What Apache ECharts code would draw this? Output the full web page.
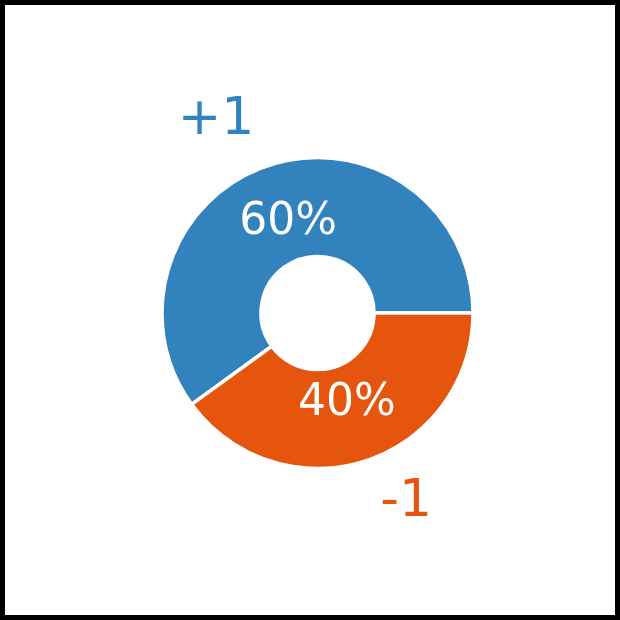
<!DOCTYPE html>
<html>
<head>
<meta charset="utf-8">
<script src="https://cdn.jsdelivr.net/npm/echarts@6/dist/echarts.min.js"></script>
<style>html,body{margin:0;padding:0;background:#fff;}#c{width:620px;height:620px;}</style>
</head>
<body>
<div id="c"></div>
<script>
const categories = ['+1', '-1'];
const values = [60, 40];
const colors = ['#3182bd', '#e6550d'];

const chart = echarts.init(document.getElementById('c'), null, {renderer: 'canvas'});
const center = [317.5, 313];
const font = 'DejaVu Sans';

const mainData = categories.map((n, i) => ({name: n, value: values[i], itemStyle: {color: colors[i]}}));
const pctData = categories.map((n, i) => ({name: n, value: values[i]}));
const namePad = [[0, 78, 0, 0], [0, 0, 0, 54]];
const nameRadius = [[194, 204.6], [192, 201.4]];
function nameSeriesData(k) {
  return categories.map((n, i) => ({
    name: n, value: values[i],
    label: {show: i === k, color: colors[i], padding: namePad[i]}
  }));
}

const transparentBase = {
  type: 'pie', center: center, startAngle: 0, clockwise: false, silent: true,
  itemStyle: {color: 'rgba(0,0,0,0)', borderWidth: 0},
  labelLine: {show: false}, emphasis: {disabled: true}, animation: false
};

const nameSeries = categories.map((n, k) => Object.assign({}, transparentBase, {
  radius: nameRadius[k],
  label: {position: 'inside', formatter: '{b}', fontSize: 52, fontFamily: font},
  data: nameSeriesData(k)
}));

chart.setOption({
  animation: false,
  graphic: [{type: 'rect', shape: {x: 0, y: 0, width: 620, height: 620}, style: {fill: 'none', stroke: '#000', lineWidth: 10}, z: 100}],
  series: [
    {
      type: 'pie', center: center, radius: [56.5, 155.5], startAngle: 0, clockwise: false,
      silent: true, animation: false,
      itemStyle: {borderColor: '#fff', borderWidth: 3.5},
      label: {show: false}, labelLine: {show: false},
      emphasis: {disabled: true},
      data: mainData
    },
    Object.assign({}, transparentBase, {
      radius: [87, 97],
      label: {show: true, position: 'inside', formatter: '{d}%', color: '#fff', fontSize: 44, fontFamily: font},
      data: pctData
    })
  ].concat(nameSeries)
});
</script>
</body>
</html>
